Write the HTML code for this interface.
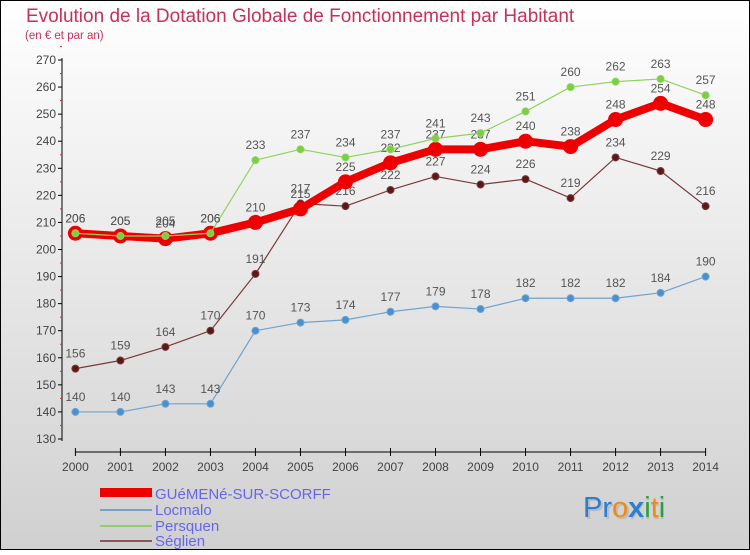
<!DOCTYPE html>
<html><head><meta charset="utf-8"><style>
html,body{margin:0;padding:0}
body{width:750px;height:550px;overflow:hidden;font-family:"Liberation Sans",sans-serif}
</style></head><body>
<svg id="chart" width="750" height="550" xmlns="http://www.w3.org/2000/svg">
<defs>
<linearGradient id="bg" x1="0" y1="0" x2="0" y2="1">
<stop offset="0" stop-color="#ffffff"/><stop offset="1" stop-color="#d0d0d0"/>
</linearGradient>
</defs>
<rect x="0.5" y="0.5" width="749" height="549" fill="url(#bg)" stroke="#000" stroke-width="1"/>
<text x="26" y="22" font-size="19" fill="#c8305a" style="font-weight:300">Evolution de la Dotation Globale de Fonctionnement par Habitant</text>
<text x="25" y="39" font-size="11.5" fill="#c8305a">(en € et par an)</text>
<g id="axes"></g>
<g id="series"></g>
<g id="legend">
<rect x="100" y="488" width="52" height="9" fill="#ee0000"/>
<text x="155" y="499" font-size="15" fill="#6666ee">GUéMENé-SUR-SCORFF</text>
<line x1="100" y1="510" x2="152" y2="510" stroke="#6fa3cf" stroke-width="2"/>
<text x="155" y="515" font-size="15" fill="#6666ee">Locmalo</text>
<line x1="100" y1="526" x2="152" y2="526" stroke="#8fd35f" stroke-width="2"/>
<text x="155" y="531" font-size="15" fill="#6666ee">Persquen</text>
<line x1="100" y1="541" x2="152" y2="541" stroke="#8a5555" stroke-width="2"/>
<text x="155" y="546" font-size="15" fill="#6666ee">Séglien</text>
</g>
<g font-size="29">
<text x="585" y="519" fill="#bbb"><tspan>Proxiti</tspan></text>
<text x="583" y="517"><tspan fill="#2a7fd0">Pr</tspan><tspan fill="#f08a10">o</tspan><tspan fill="#2a7fd0" font-weight="bold">x</tspan><tspan fill="#2aa040">i</tspan><tspan fill="#f08a10">t</tspan><tspan fill="#2aa040">i</tspan></text>
</g>
</svg>
<script>
const years=[2000,2001,2002,2003,2004,2005,2006,2007,2008,2009,2010,2011,2012,2013,2014];
const guemene=[206,205,204,206,210,215,225,232,237,237,240,238,248,254,248];
const locmalo=[140,140,143,143,170,173,174,177,179,178,182,182,182,184,190];
const persquen=[206,205,205,206,233,237,234,237,241,243,251,260,262,263,257];
const seglien=[156,159,164,170,191,217,216,222,227,224,226,219,234,229,216];
const yTicks=[130,140,150,160,170,180,190,200,210,220,230,240,250,260,270];
const NS="http://www.w3.org/2000/svg";
const X=i=>75.4+i*(705.6-75.4)/(years.length-1);
const Y=v=>439-(v-130)*(439-60)/140;
function mk(tag,attrs,parent){const e=document.createElementNS(NS,tag);for(const k in attrs)e.setAttribute(k,attrs[k]);parent.appendChild(e);return e;}
const axes=document.getElementById('axes');
const yl=mk('line',{x1:62,y1:58,x2:62,y2:441,stroke:'#000','stroke-width':1},axes);


yTicks.forEach(v=>{
  const t=mk('line',{x1:58,y1:Y(v),x2:62,y2:Y(v),stroke:'#000'},axes);
  
  
  const r=mk('line',{x1:60,y1:Y(v+5),x2:62,y2:Y(v+5),stroke:'#e03030'},axes);
  
  
  const l=mk('text',{x:56,y:Y(v)+4,'font-size':12,fill:'#444','text-anchor':'end'},axes);
  l.textContent=v;
  
  
});
const xl=mk('line',{x1:75.4,y1:452,x2:705.6,y2:452,stroke:'#000'},axes);


years.forEach((yr,i)=>{
  const t=mk('line',{x1:X(i),y1:448,x2:X(i),y2:456,stroke:'#000'},axes);
  
  
  const l=mk('text',{x:X(i),y:471,'font-size':12,fill:'#444','text-anchor':'middle'},axes);
  l.textContent=yr;
  
  
});
const sg=document.getElementById('series');
function series(name,vals,color,w,r,dot){
  const g=mk('g',{},sg);
  
  
  const p=mk('polyline',{points:vals.map((v,i)=>X(i)+','+Y(v)).join(' '),fill:'none',stroke:color,'stroke-width':w,'stroke-linejoin':'round'},g);
  
  
  vals.forEach((v,i)=>{
    const c=mk('circle',{cx:X(i),cy:Y(v),r:r,fill:dot,stroke:color,'stroke-width':1},g);
    
    
    const t=mk('text',{x:X(i),y:Y(v)-11,'font-size':12,fill:'#555','text-anchor':'middle'},g);
    t.textContent=v;
    
    
  });
}
series('seglien',seglien,'#7a3a3a',1.2,3.5,'#5a1818');
series('locmalo',locmalo,'#6fa3cf',1.2,3.5,'#4a90d0');
series('guemene',guemene,'#ee0000',8,7,'#ee0000');
series('persquen',persquen,'#8fd35f',1.2,3.5,'#7ad040');
</script>
</body></html>
